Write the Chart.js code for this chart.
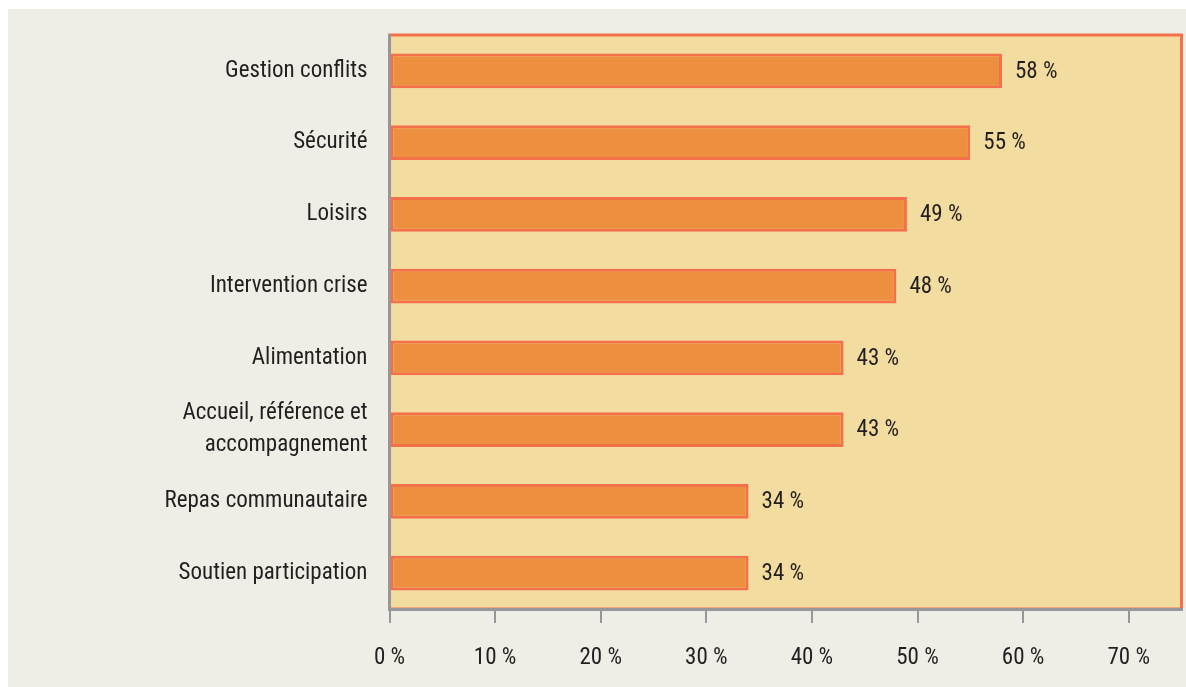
<!DOCTYPE html>
<html>
<head>
<meta charset="utf-8">
<script src="https://cdn.jsdelivr.net/npm/chart.js@4"></script>
<style>
html,body{margin:0;padding:0;background:#ffffff;width:1186px;height:687px;overflow:hidden;}
#panel{position:absolute;left:8px;top:9px;width:1178px;height:678px;background:#EFEEE6;}
#c{display:block;}
</style>
</head>
<body>
<div id="panel"><canvas id="c" width="1178" height="678"></canvas></div>
<script>
const categories = ["Gestion conflits", "Sécurité", "Loisirs", "Intervention crise", "Alimentation", ["Accueil, référence et", "accompagnement"], "Repas communautaire", "Soutien participation"];
const values = [58, 55, 49, 48, 43, 43, 34, 34];
const valueLabels = ["58 %", "55 %", "49 %", "48 %", "43 %", "43 %", "34 %", "34 %"];
const tickSuffix = " %";

const FONT = "'Roboto Condensed','Liberation Sans Narrow','DejaVu Sans Condensed','Arial Narrow',Roboto,sans-serif";
const GRAY = '#97979B';
const ORANGE_BORDER = '#F4704A';

const bgPlugin = {
  id: 'plotBg',
  beforeDraw(chart) {
    const {ctx, chartArea: a} = chart;
    ctx.save();
    ctx.fillStyle = '#F2DCA0';
    ctx.fillRect(a.left, a.top, a.right - a.left, a.bottom - a.top);
    ctx.strokeStyle = ORANGE_BORDER;
    ctx.lineWidth = 3;
    ctx.strokeRect(a.left, a.top, a.right - a.left, a.bottom - a.top);
    ctx.restore();
  }
};

const labelPlugin = {
  id: 'valLabels',
  afterDatasetsDraw(chart) {
    const {ctx} = chart;
    const meta = chart.getDatasetMeta(0);
    ctx.save();
    ctx.font = "23px " + FONT;
    ctx.fillStyle = '#231F20';
    ctx.textAlign = 'left';
    ctx.textBaseline = 'middle';
    meta.data.forEach((bar, i) => {
      ctx.fillText(valueLabels[i], bar.x + 13, bar.y + 1);
    });
    ctx.restore();
  }
};

new Chart(document.getElementById('c'), {
  type: 'bar',
  data: {
    labels: categories,
    datasets: [{
      data: values,
      backgroundColor: '#EC8F3F',
      borderColor: ORANGE_BORDER,
      borderWidth: 3,
      borderSkipped: false,
      barPercentage: 0.486,
      categoryPercentage: 1
    }]
  },
  options: {
    indexAxis: 'y',
    responsive: false,
    animation: false,
    devicePixelRatio: 1,
    layout: {padding: {top: 26, right: 4.5, left: 0, bottom: 0}},
    plugins: {legend: {display: false}, tooltip: {enabled: false}},
    scales: {
      x: {
        min: 0, max: 75,
        afterFit(s) { s.height = 78; s.paddingLeft = 0; s.paddingRight = 0; },
        afterBuildTicks(s) { s.ticks = s.ticks.filter(t => t.value <= 70); },
        ticks: {
          stepSize: 10,
          color: '#231F20',
          font: {family: FONT, size: 23},
          padding: 21,
          callback: v => v + tickSuffix
        },
        grid: {drawOnChartArea: false, drawTicks: true, tickLength: 14, color: GRAY, lineWidth: 2},
        border: {display: true, color: GRAY, width: 3}
      },
      y: {
        afterFit(s) { s.width = 381.5; s.paddingTop = 0; s.paddingBottom = 0; },
        ticks: {
          color: '#231F20',
          font: {family: FONT, size: 23, lineHeight: 1.4},
          padding: 22
        },
        grid: {display: false, drawTicks: false},
        border: {display: true, color: GRAY, width: 3}
      }
    }
  },
  plugins: [bgPlugin, labelPlugin]
});
</script>
</body>
</html>
